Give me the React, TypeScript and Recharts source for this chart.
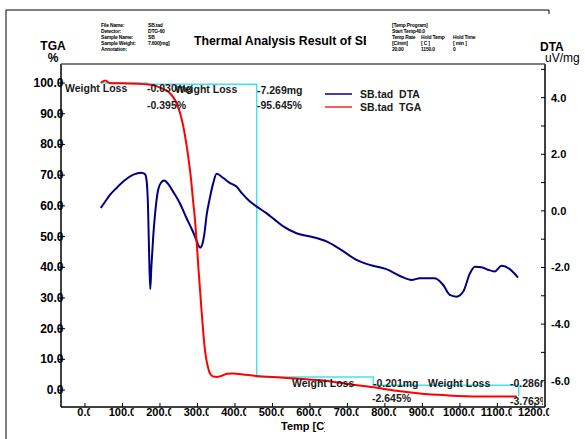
import React from 'react';
import {ComposedChart, Line, XAxis, YAxis} from 'recharts';

// DTA curve, uV/mg against temperature
const dtaTemp = [42, 55, 67, 85, 102, 129, 150, 160, 164, 168, 171, 174, 177, 182, 187, 195, 203, 211, 222, 235, 253, 271, 285, 295, 302, 307, 312, 318, 325, 332, 342, 351, 369, 385, 404, 420, 440, 458, 484, 505, 529, 564, 609, 644, 680, 724, 760, 804, 840, 871, 893, 933, 955, 973, 991, 1009, 1027, 1040, 1058, 1075, 1093, 1111, 1133, 1155];
const dtaValue = [0.1, 0.35, 0.57, 0.82, 1.04, 1.28, 1.35, 1.3, 1.1, 0.2, -1.5, -2.77, -2.0, -0.9, -0.1, 0.74, 1.0, 1.07, 0.95, 0.68, 0.27, -0.26, -0.65, -0.96, -1.2, -1.3, -1.22, -0.85, -0.1, 0.39, 0.98, 1.31, 1.16, 1.0, 0.86, 0.6, 0.33, 0.15, -0.08, -0.3, -0.55, -0.79, -0.93, -1.08, -1.35, -1.73, -1.91, -2.06, -2.3, -2.44, -2.38, -2.38, -2.61, -2.97, -3.03, -2.85, -2.2, -1.97, -1.99, -2.08, -2.14, -1.94, -2.06, -2.36];

// TGA curve, % against temperature
const tgaTemp = [42, 55, 65, 100, 140, 170, 190, 210, 228, 242, 253, 262, 270, 277, 283, 288, 293, 298, 303, 309, 315, 321, 327, 333, 342, 352, 365, 380, 395, 420, 458, 520, 590, 630, 700, 770, 830, 893, 964, 1050, 1152];
const tgaValue = [100.1, 100.8, 100.0, 99.9, 99.8, 99.5, 99.0, 98.0, 96.5, 94.0, 90.5, 86.0, 80.5, 74.5, 68.5, 62, 56, 48, 39, 29, 19.5, 12, 8.0, 5.5, 4.4, 4.3, 4.7, 5.3, 5.4, 5.1, 4.6, 4.1, 3.5, 3.2, 2.0, 0.9, -0.2, -1.1, -1.7, -2.1, -2.1];

// weight loss steps (cyan)
const stepTemp = [42, 165, 165, 458, 458, 769, 769, 1157, 1157];
const stepValue = [100.0, 100.0, 99.6, 99.6, 4.3, 4.3, 1.6, 1.6, -2.0];

const xTicks = [0, 100, 200, 300, 400, 500, 600, 700, 800, 900, 1000, 1100, 1200];
const tgaTicks = [0, 10, 20, 30, 40, 50, 60, 70, 80, 90, 100];
const dtaTicks = [-6, -5, -4, -3, -2, -1, 0, 1, 2, 3, 4, 5];

const dtaData = dtaTemp.map((t, i) => ({t, v: dtaValue[i]}));
const tgaData = tgaTemp.map((t, i) => ({t, v: tgaValue[i]}));
const stepData = stepTemp.map((t, i) => ({t, v: stepValue[i]}));

const FONT = "'Liberation Sans', Arial, sans-serif";

const XTick = (props) => {
    const {x, y, payload} = props;
    const label = payload.value.toFixed(1);
    const w = (label.length - 1) * 6.12 + 3.06; // rough bold 11px width
    const id = `xc-${payload.value}`;
    return (
        <g>
            <line x1={x} y1={y - 4} x2={x} y2={y} stroke="#000" strokeWidth={1}/>
            <clipPath id={id}>
                <rect x={x - 40} y={y} width={40 + w / 2 - 2.5} height={20}/>
            </clipPath>
            <text x={x} y={y + 9} textAnchor="middle" fontSize={11} fontWeight="bold"
                  fontFamily={FONT} fill="#000" clipPath={`url(#${id})`}>{label}</text>
        </g>
    );
};

const LeftTick = (props) => {
    const {x, y, payload} = props;
    return (
        <g>
            <line x1={x - 3} y1={y} x2={x + 4} y2={y} stroke="#000" strokeWidth={1}/>
            <text x={x + 2.5} y={y + 4} textAnchor="end" fontSize={12} fontWeight="bold"
                  fontFamily={FONT} fill="#000">{payload.value.toFixed(1)}</text>
        </g>
    );
};

const RightTick = (props) => {
    const {x, y, payload} = props;
    const major = payload.value % 2 === 0;
    return (
        <g>
            <line x1={x - 4} y1={y} x2={x} y2={y} stroke="#000" strokeWidth={1}/>
            {major && (
                <text x={x + 6} y={y + 4} fontSize={11} fontWeight="bold"
                      fontFamily={FONT} fill="#000">{payload.value.toFixed(1)}</text>
            )}
        </g>
    );
};

const small = {fontSize: 5, fontWeight: 'bold', fontFamily: FONT, fill: '#000', letterSpacing: -0.2};
const note = {fontSize: 10.5, fontWeight: 'bold', fontFamily: FONT, fill: '#1a1a1a'};

const Overlay = () => (
    <svg width={585} height={439} style={{position: 'absolute', left: 0, top: 0, pointerEvents: 'none'}}>
        <defs>
            <clipPath id="titleClip"><rect x={0} y={0} width={366} height={60}/></clipPath>
            <clipPath id="plotClip"><rect x={61} y={64} width={482} height={343}/></clipPath>
            <clipPath id="unitClip"><rect x={0} y={400} width={325} height={39}/></clipPath>
        </defs>
        {/* frame */}
        <line x1={6} y1={10} x2={549} y2={10} stroke="#000" strokeWidth={1}/>
        <line x1={6} y1={10} x2={6} y2={439} stroke="#000" strokeWidth={1}/>
        <line x1={549} y1={10} x2={549} y2={14} stroke="#000" strokeWidth={1}/>
        <line x1={61} y1={64} x2={545} y2={64} stroke="#555" strokeWidth={1.5}/>

        {/* header info */}
        <text x={101} y={27} {...small}>File Name:</text>
        <text x={148} y={27} {...small}>SB.tad</text>
        <text x={101} y={33} {...small}>Detector:</text>
        <text x={148} y={33} {...small}>DTG-60</text>
        <text x={101} y={39} {...small}>Sample Name:</text>
        <text x={148} y={39} {...small}>SB</text>
        <text x={101} y={45} {...small}>Sample Weight:</text>
        <text x={148} y={45} {...small}>7.600[mg]</text>
        <text x={101} y={51} {...small}>Annotation:</text>

        <text x={392} y={27} {...small}>[Temp Program]</text>
        <text x={392} y={33} {...small}>Start Temp</text>
        <text x={416} y={33} {...small}>40.0</text>
        <text x={392} y={39} {...small}>Temp Rate</text>
        <text x={421} y={39} {...small}>Hold Temp</text>
        <text x={453} y={39} {...small}>Hold Time</text>
        <text x={392} y={45} {...small}>[C/min]</text>
        <text x={421} y={45} {...small}>[ C ]</text>
        <text x={453} y={45} {...small}>[ min ]</text>
        <text x={392} y={51} {...small}>20.00</text>
        <text x={421} y={51} {...small}>1150.0</text>
        <text x={453} y={51} {...small}>0</text>

        <text x={194} y={45} fontSize={12.3} fontWeight="bold" fontFamily={FONT} fill="#000"
              clipPath="url(#titleClip)">Thermal Analysis Result of SB</text>

        {/* axis titles */}
        <text x={53} y={50} textAnchor="middle" fontSize={12} fontWeight="bold" fontFamily={FONT}>TGA</text>
        <text x={53} y={62} textAnchor="middle" fontSize={12} fontWeight="bold" fontFamily={FONT}>%</text>
        <text x={540} y={51} fontSize={12} fontWeight="bold" fontFamily={FONT}>DTA</text>
        <text x={545} y={62} fontSize={12} fontFamily={FONT}>uV/mg</text>
        <text x={281} y={430} fontSize={11} fontWeight="bold" fontFamily={FONT}
              clipPath="url(#unitClip)">Temp [C]</text>

        {/* legend */}
        <line x1={325} y1={94} x2={352} y2={94} stroke="#000080" strokeWidth={1.5}/>
        <text x={360} y={98} {...note} style={{whiteSpace: 'pre'}}>SB.tad  DTA</text>
        <line x1={325} y1={107} x2={352} y2={107} stroke="#ff2020" strokeWidth={1.5}/>
        <text x={360} y={111} {...note} style={{whiteSpace: 'pre'}}>SB.tad  TGA</text>

        {/* weight loss notes */}
        <g clipPath="url(#plotClip)">
            <text x={65} y={92} {...note}>Weight Loss</text>
            <text x={147} y={92} {...note}>-0.030mg</text>
            <text x={147} y={108.5} {...note}>-0.395%</text>
            <text x={175} y={92.5} {...note}>Weight Loss</text>
            <text x={257} y={93.5} {...note}>-7.269mg</text>
            <text x={257} y={108.5} {...note}>-95.645%</text>
            <text x={292} y={387} {...note}>Weight Loss</text>
            <text x={373} y={387} {...note}>-0.201mg</text>
            <text x={372} y={402} {...note}>-2.645%</text>
            <text x={428} y={387} {...note}>Weight Loss</text>
            <text x={510} y={387} {...note}>-0.286mg</text>
            <text x={510} y={405} {...note}>-3.763%</text>
        </g>
    </svg>
);

const App = () => {
    return (
        <div style={{position: 'absolute', left: 0, top: 0, width: 585, height: 439, background: '#fff'}}>
            <ComposedChart width={585} height={439}
                           margin={{top: 64, right: 0, bottom: 0, left: 1}}>
                <XAxis dataKey="t" type="number" domain={[-64, 1227]} ticks={xTicks}
                       height={32} tickSize={0} tickMargin={0} tickLine={false}
                       axisLine={{stroke: '#000', strokeWidth: 1.5}} tick={<XTick/>}
                       allowDataOverflow/>
                <YAxis yAxisId="tga" orientation="left" type="number" domain={[-5.5, 106.2]}
                       ticks={tgaTicks} width={60} tickSize={0} tickMargin={0} tickLine={false}
                       axisLine={{stroke: '#000', strokeWidth: 1.5}} tick={<LeftTick/>}
                       allowDataOverflow/>
                <YAxis yAxisId="dta" orientation="right" type="number" domain={[-6.93, 5.19]}
                       ticks={dtaTicks} width={40} tickSize={0} tickMargin={0} tickLine={false}
                       axisLine={{stroke: '#000', strokeWidth: 1.5}} tick={<RightTick/>}
                       allowDataOverflow/>
                <Line yAxisId="tga" data={stepData} dataKey="v" type="linear" stroke="#40e4ee"
                      strokeWidth={1.5} dot={false} isAnimationActive={false}/>
                <Line yAxisId="dta" data={dtaData} dataKey="v" type="monotone" stroke="#000080"
                      strokeWidth={2} dot={false} isAnimationActive={false}/>
                <Line yAxisId="tga" data={tgaData} dataKey="v" type="monotone" stroke="#ff0000"
                      strokeWidth={2} dot={false} isAnimationActive={false}/>
            </ComposedChart>
            <Overlay/>
        </div>
    );
};

export default App;
